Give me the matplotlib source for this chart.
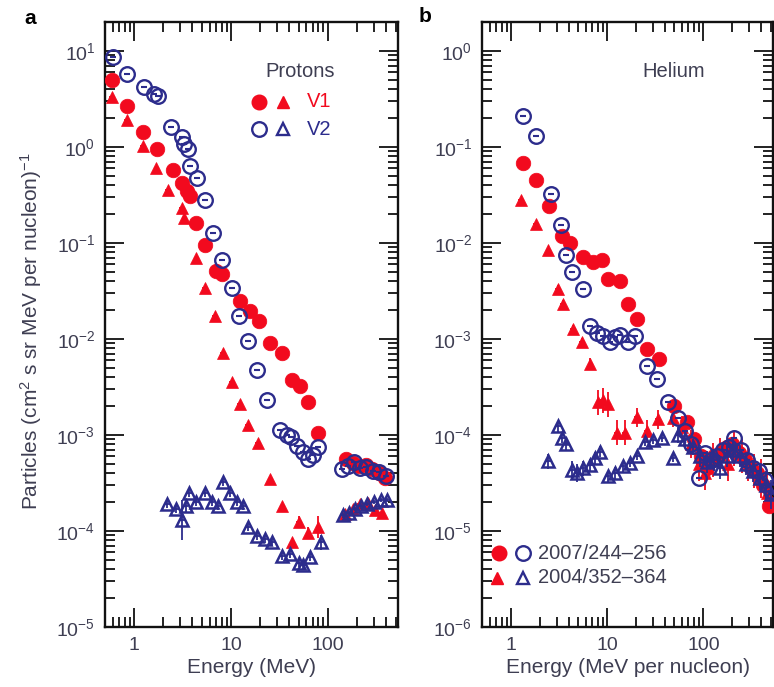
import matplotlib
matplotlib.use("Agg")
import matplotlib.pyplot as plt
import numpy as np
from matplotlib.ticker import LogLocator, NullFormatter, LogFormatterSciNotation, FixedLocator, FixedFormatter

plt.rcParams['font.family'] = ['Liberation Sans', 'DejaVu Sans']
plt.rcParams['mathtext.fontset'] = 'custom'
plt.rcParams['mathtext.rm'] = 'Liberation Sans'
plt.rcParams['mathtext.it'] = 'Liberation Sans:italic'
plt.rcParams['mathtext.bf'] = 'Liberation Sans:bold'
plt.rcParams['mathtext.default'] = 'rm'

RED = '#f20a1e'
BLUE = '#2c2c8c'
TXT = '#3e3e52'

# ---------------- Panel a: protons ----------------
# V1, 2007/244-256 (filled circles)
pa_v1c_E = [0.59, 0.85, 1.24, 1.74, 2.5, 3.1, 3.5, 3.75, 4.3, 5.4, 7.0, 8.0, 12.4, 15.8,
            19.5, 25.5, 34, 43, 52, 63, 80, 155, 180, 210, 245, 285, 335, 390]
pa_v1c_F = [4.97, 2.7, 1.42, 0.94, 0.58, 0.42, 0.35, 0.31, 0.162, 0.095, 0.051, 0.048,
            0.0248, 0.0195, 0.0152, 0.0090, 0.0071, 0.0037, 0.0032, 0.0022, 0.00104,
            5.6e-4, 5.1e-4, 4.8e-4, 4.9e-4, 4.4e-4, 4.0e-4, 3.6e-4]
# V2, 2007/244-256 (open circles)
pa_v2c_E = [0.60, 0.85, 1.25, 1.6, 1.75, 2.4, 3.1, 3.3, 3.6, 3.75, 4.5, 5.35, 6.5, 8.05,
            10.2, 12.2, 15.0, 18.6, 23.7, 32, 38, 42, 48, 56, 63, 70, 80,
            140, 160, 185, 215, 250, 290, 340, 400]
pa_v2c_F = [8.6, 5.7, 4.2, 3.6, 3.4, 1.6, 1.26, 1.06, 0.94, 0.63, 0.47, 0.277, 0.127, 0.066,
            0.034, 0.0172, 0.0096, 0.0047, 0.0023, 0.00112, 0.00100, 0.00095, 0.00077,
            0.00067, 0.00056, 0.00062, 0.00075,
            4.4e-4, 4.8e-4, 5.2e-4, 4.5e-4, 4.6e-4, 4.2e-4, 4.1e-4, 3.7e-4]
# V1, 2004/352-364 (filled triangles)
pa_v1t_E = [0.59, 0.85, 1.24, 1.7, 2.25, 3.1, 3.3, 4.4, 5.35, 6.8, 8.2, 10.3, 12.4, 15, 19,
            25.5, 34, 43, 50, 63, 80, 150, 180, 215, 260, 310, 360]
pa_v1t_F = [3.3, 1.9, 1.03, 0.61, 0.36, 0.233, 0.18, 0.070, 0.034, 0.0172, 0.0071, 0.0036,
            0.0021, 0.00127, 0.00082, 0.00035, 0.000181, 7.7e-5, 1.24e-4, 9.5e-5, 1.1e-4,
            1.5e-4, 1.7e-4, 1.9e-4, 1.95e-4, 1.65e-4, 1.55e-4]
pa_v1t_k = [1.0] * 18 + [1.15, 1.15, 1.3] + [1.0] * 6
# V2, 2004/352-364 (open triangles)
pa_v2t_E = [2.2, 2.7, 3.1, 3.4, 3.7, 4.4, 5.35, 6.3, 7.3, 8.3, 9.8, 11.5, 13.3, 15, 18.6,
            22.6, 26.8, 34, 41, 50, 56, 66, 84, 145, 165, 190, 220, 255, 300, 350, 410]
pa_v2t_F = [1.9e-4, 1.7e-4, 1.3e-4, 1.8e-4, 2.5e-4, 2.0e-4, 2.5e-4, 2.0e-4, 1.8e-4, 3.2e-4,
            2.5e-4, 2.0e-4, 1.8e-4, 1.1e-4, 8.8e-5, 8.2e-5, 7.6e-5, 5.5e-5, 5.8e-5, 4.6e-5,
            4.4e-5, 5.3e-5, 7.6e-5, 1.45e-4, 1.55e-4, 1.7e-4, 1.8e-4, 1.9e-4, 2.0e-4,
            2.1e-4, 2.1e-4]
pa_v2t_k = [1.1, 1.1, 1.6, 1.15, 1.1, 1.1, 1.1, 1.1, 1.1, 1.1, 1.1, 1.1, 1.1, 1.1, 1.1,
            1.1, 1.1, 1.1, 1.1, 1.1, 1.1, 1.1, 1.2, 1.05, 1.05, 1.05, 1.05, 1.05, 1.05,
            1.05, 1.05]

# ---------------- Panel b: helium ----------------
pb_v1c_E = [1.33, 1.81, 2.5, 3.4, 4.15, 5.65, 7.2, 8.9, 10.2, 13.6, 16.5, 20.3, 25.8, 35,
            50, 68, 80, 95, 110, 130, 150, 175, 200, 235, 270, 310, 360, 420, 480]
pb_v1c_F = [0.068, 0.045, 0.024, 0.0119, 0.0101, 0.0072, 0.0064, 0.0066, 0.0042, 0.0040,
            0.0023, 0.00162, 0.00078, 0.00062, 2.0e-4, 1.35e-4, 9e-5, 6e-5, 4.5e-5, 6e-5,
            6.5e-5, 7.5e-5, 8e-5, 6.5e-5, 5.5e-5, 4.5e-5, 4e-5, 3e-5, 1.8e-5]
pb_v2c_E = [1.33, 1.81, 2.6, 3.3, 3.7, 4.35, 5.65, 6.7, 7.9, 9.1, 10.7, 12.0, 13.6, 16.5,
            19.4, 25.8, 32.7, 42.5, 55, 65, 75, 90, 105, 120, 140, 160, 185, 210, 245,
            285, 330, 380, 440, 500]
pb_v2c_F = [0.21, 0.13, 0.032, 0.0152, 0.0074, 0.0050, 0.0033, 0.00137, 0.00115, 0.00107,
            0.00093, 0.00105, 0.0011, 0.00093, 0.00107, 0.00052, 0.00038, 0.00022,
            1.5e-4, 1.1e-4, 8e-5, 3.6e-5, 6.5e-5, 5.5e-5, 6e-5, 7e-5, 7.5e-5, 9.2e-5,
            7e-5, 5.5e-5, 4.5e-5, 4.2e-5, 3.4e-5, 2.6e-5]
pb_v1t_E = [1.27, 1.81, 2.45, 3.1, 3.5, 4.45, 5.5, 6.7, 8.1, 9.0, 10.2, 12.7, 15.3, 20.3,
            25.8, 33.5, 48, 60, 75, 90, 105, 125, 150, 180, 210, 250, 290, 340, 400, 460]
pb_v1t_F = [0.028, 0.0158, 0.0084, 0.0033, 0.0023, 0.00127, 9.3e-4, 5.5e-4, 2.2e-4, 2.3e-4,
            2.1e-4, 1.06e-4, 1.06e-4, 1.53e-4, 1.1e-4, 1.45e-4, 1.5e-4, 1.2e-4, 8e-5, 5e-5,
            4e-5, 5.5e-5, 6.2e-5, 5e-5, 7.2e-5, 6e-5, 5e-5, 4.2e-5, 3.5e-5, 2.5e-5]
pb_v1t_k = [1.0, 1.0, 1.0, 1.1, 1.1, 1.1, 1.1, 1.15, 1.35, 1.35, 1.35, 1.35, 1.35, 1.25,
            1.3, 1.25, 1.25, 1.3, 1.4, 1.5, 1.5, 1.5, 1.5, 1.5, 1.5, 1.5, 1.5, 1.5, 1.6, 1.6]
pb_v2t_E = [2.45, 3.1, 3.4, 3.7, 4.35, 4.9, 5.65, 6.7, 7.5, 8.4, 10.2, 12.1, 14.6, 17.2,
            20.3, 24.6, 29.8, 36.8, 48, 55, 65, 78, 92, 108, 128, 150, 175, 205, 240, 280,
            330, 390, 450, 510]
pb_v2t_F = [5.3e-5, 1.23e-4, 9.4e-5, 8e-5, 4.3e-5, 4.0e-5, 4.5e-5, 4.9e-5, 5.8e-5, 6.7e-5,
            3.7e-5, 4.0e-5, 4.7e-5, 5.1e-5, 6.0e-5, 8.5e-5, 8.9e-5, 9.4e-5, 5.8e-5, 1e-4,
            9e-5, 7.5e-5, 6e-5, 5.2e-5, 5.5e-5, 4.5e-5, 6e-5, 7e-5, 6e-5, 5e-5, 4.2e-5,
            3.6e-5, 3e-5, 2.4e-5]
pb_v2t_k = [1.2, 1.15, 1.15, 1.15, 1.25, 1.25, 1.2, 1.15, 1.15, 1.15, 1.15, 1.15, 1.15,
            1.1, 1.1, 1.1, 1.1, 1.1, 1.1, 1.2, 1.2, 1.2, 1.3, 1.3, 1.3, 1.3, 1.3, 1.3, 1.3,
            1.3, 1.3, 1.35, 1.4, 1.4]

X_TICKS = [1, 10, 100]
X_TICKLABELS = ['1', '10', '100']
X_MINOR = [0.6, 0.7, 0.8, 0.9, 2, 3, 4, 5, 6, 7, 8, 9,
           20, 30, 40, 50, 60, 70, 80, 90, 200, 300, 400, 500]
Y_EXP_A = [-5, -4, -3, -2, -1, 0, 1]
Y_EXP_B = [-6, -5, -4, -3, -2, -1, 0]


def bars(ax, E, F, k, color, z):
    E = np.asarray(E); F = np.asarray(F); k = np.asarray(k)
    ax.errorbar(E, F, yerr=[F - F / k, F * k - F], xerr=[E - E / 1.07, E * 1.07 - E],
                fmt='none', ecolor=color, elinewidth=1.3, capsize=0, zorder=z)


def filled_circles(ax, E, F, z=3):
    ax.plot(E, F, 'o', ls='none', ms=10.5, mfc=RED, mec=RED, mew=0.5, zorder=z)


def open_circles(ax, E, F, z=4):
    ax.plot(E, F, 'o', ls='none', ms=10.5, mfc='none', mec=BLUE, mew=1.7, zorder=z)
    ax.plot(E, F, '_', ls='none', ms=5, color=BLUE, mew=1.5, zorder=z)


def filled_tri(ax, E, F, k=None, z=3):
    if k is not None:
        bars(ax, E, F, k, RED, z)
    ax.plot(E, F, '^', ls='none', ms=8.5, mfc=RED, mec=RED, mew=0.5, zorder=z)


def open_tri(ax, E, F, k=None, z=5):
    if k is not None:
        bars(ax, E, F, k, BLUE, z)
    ax.plot(E, F, '^', ls='none', ms=8, mfc='none', mec=BLUE, mew=1.8, zorder=z)


def style_axis(ax, exps, ytop, xlabel):
    ax.set_xscale('log'); ax.set_yscale('log')
    ax.set_xlim(0.5, 530)
    ax.set_ylim(10.0 ** exps[0], ytop)
    ax.xaxis.set_major_locator(FixedLocator(X_TICKS))
    ax.xaxis.set_major_formatter(FixedFormatter(X_TICKLABELS))
    ax.xaxis.set_minor_locator(FixedLocator(X_MINOR))
    ax.xaxis.set_minor_formatter(NullFormatter())
    ax.yaxis.set_major_locator(FixedLocator([10.0 ** e for e in exps]))
    ax.yaxis.set_major_formatter(FixedFormatter([r'$10^{%d}$' % e for e in exps]))
    minors = [m * 10.0 ** e for e in exps for m in range(2, 10) if m * 10.0 ** e < ytop]
    ax.yaxis.set_minor_locator(FixedLocator(minors))
    ax.yaxis.set_minor_formatter(NullFormatter())
    ax.tick_params(which='both', direction='in', top=True, right=True, colors='#111111',
                   labelcolor=TXT, labelsize=14, width=1.3)
    ax.tick_params(which='major', length=14, pad=7)
    ax.tick_params(which='minor', length=7, labelbottom=False, labelleft=False)
    for s in ax.spines.values():
        s.set_linewidth(1.7)
        s.set_color('#111111')
    ax.set_xlabel(xlabel, fontsize=15, color=TXT, labelpad=3)


W, H = 774, 687
fig = plt.figure(figsize=(W / 100, H / 100), dpi=100)
axa = fig.add_axes([105 / W, 60 / H, 293 / W, 605 / H])
axb = fig.add_axes([482 / W, 60 / H, 291 / W, 605 / H])

# panel a
filled_circles(axa, pa_v1c_E, pa_v1c_F)
filled_tri(axa, pa_v1t_E, pa_v1t_F, pa_v1t_k)
open_circles(axa, pa_v2c_E, pa_v2c_F)
open_tri(axa, pa_v2t_E, pa_v2t_F, pa_v2t_k)
style_axis(axa, Y_EXP_A, 20, 'Energy (MeV)')

# panel b
filled_circles(axb, pb_v1c_E, pb_v1c_F)
filled_tri(axb, pb_v1t_E, pb_v1t_F, pb_v1t_k)
open_circles(axb, pb_v2c_E, pb_v2c_F)
open_tri(axb, pb_v2t_E, pb_v2t_F, pb_v2t_k)
style_axis(axb, Y_EXP_B, 2, 'Energy (MeV per nucleon)')

# legend, panel a
ta = axa.transAxes
axa.text(0.666, 0.918, 'Protons', transform=ta, ha='center', va='center', fontsize=14.5, color=TXT)
axa.plot([0.527], [0.868], 'o', ms=10.5, mfc=RED, mec=RED, transform=ta, clip_on=False)
axa.plot([0.607], [0.868], '^', ms=8.5, mfc=RED, mec=RED, transform=ta, clip_on=False)
axa.text(0.688, 0.868, 'V1', transform=ta, ha='left', va='center', fontsize=14.5, color=RED)
axa.plot([0.527], [0.823], 'o', ms=10.5, mfc='none', mec=BLUE, mew=1.7, transform=ta, clip_on=False)
axa.plot([0.607], [0.823], '^', ms=8, mfc='none', mec=BLUE, mew=1.7, transform=ta, clip_on=False)
axa.text(0.688, 0.823, 'V2', transform=ta, ha='left', va='center', fontsize=14.5, color=BLUE)

# legend, panel b
tb = axb.transAxes
axb.text(0.66, 0.919, 'Helium', transform=tb, ha='center', va='center', fontsize=14.5, color=TXT)
axb.plot([0.057], [0.122], 'o', ms=10.5, mfc=RED, mec=RED, transform=tb, clip_on=False)
axb.plot([0.141], [0.122], 'o', ms=10.5, mfc='none', mec=BLUE, mew=1.7, transform=tb, clip_on=False)
axb.text(0.192, 0.122, '2007/244\u2013256', transform=tb, ha='left', va='center', fontsize=14.5, color=TXT)
axb.plot([0.052], [0.081], '^', ms=8.5, mfc=RED, mec=RED, transform=tb, clip_on=False)
axb.plot([0.141], [0.081], '^', ms=8, mfc='none', mec=BLUE, mew=1.7, transform=tb, clip_on=False)
axb.text(0.192, 0.081, '2004/352\u2013364', transform=tb, ha='left', va='center', fontsize=14.5, color=TXT)

fig.text(31 / W, 1 - 331 / H, r'Particles (cm$^{2}$ s sr MeV per nucleon)$^{-1}$',
         rotation=90, ha='center', va='center', fontsize=15, color=TXT)
fig.text(30 / W, 1 - 19 / H, 'a', ha='center', va='center', fontsize=15, fontweight='bold')
fig.text(425 / W, 1 - 17 / H, 'b', ha='center', va='center', fontsize=15, fontweight='bold')

fig.savefig('out.png', dpi=100)
